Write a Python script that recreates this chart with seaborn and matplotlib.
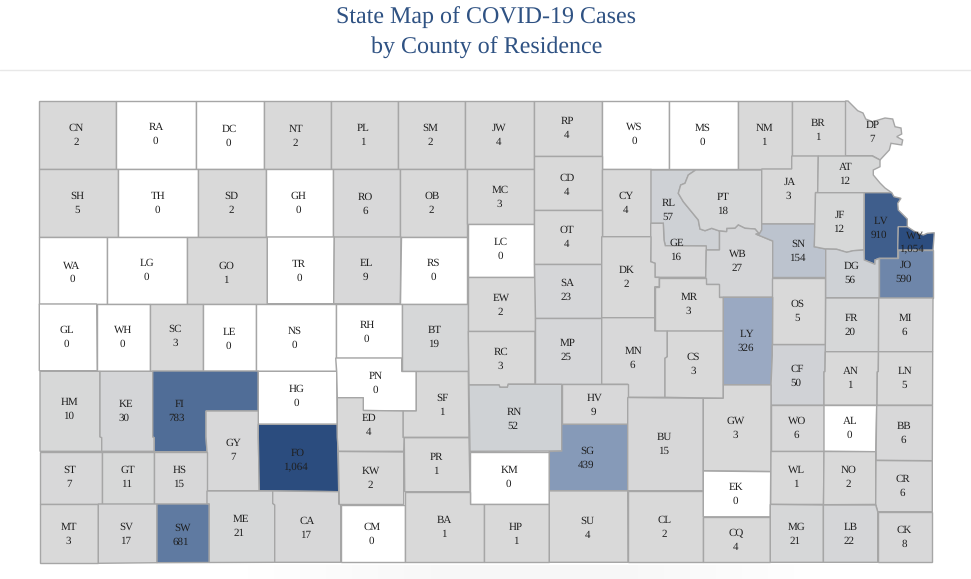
import matplotlib
matplotlib.use("Agg")
import matplotlib.pyplot as plt
from matplotlib.colors import Normalize
import seaborn as sns

# county codes and case counts, row by row from the north west
row1_codes = ["CN", "RA", "DC", "NT", "PL", "SM", "JW", "RP", "WS", "MS", "NM", "BR", "DP"]
row1_cases = [2, 0, 0, 2, 1, 2, 4, 4, 0, 0, 1, 1, 7]
row2_codes = ["SH", "TH", "SD", "GH", "RO", "OB", "MC", "CD", "CY", "RL", "PT", "JA", "AT"]
row2_cases = [5, 0, 2, 0, 6, 2, 3, 4, 4, 57, 18, 3, 12]
row3_codes = ["WA", "LG", "GO", "TR", "EL", "RS", "LC", "OT", "GE", "WB", "SN", "JF", "LV", "WY"]
row3_cases = [0, 0, 1, 0, 9, 0, 0, 4, 16, 27, 154, 12, 910, 1054]
row4_codes = ["GL", "WH", "SC", "LE", "NS", "RH", "BT", "EW", "SA", "DK", "MR", "OS", "DG", "JO"]
row4_cases = [0, 0, 3, 0, 0, 0, 19, 2, 23, 2, 3, 5, 56, 590]
row5_codes = ["HM", "KE", "FI", "HG", "PN", "SF", "RC", "MP", "MN", "CS", "LY", "FR", "MI"]
row5_cases = [10, 30, 783, 0, 0, 1, 3, 25, 6, 3, 326, 20, 6]
row6_codes = ["GY", "FO", "ED", "RN", "HV", "CF", "AN", "LN"]
row6_cases = [7, 1064, 4, 52, 9, 50, 1, 5]
row7_codes = ["ST", "GT", "HS", "KW", "PR", "KM", "SG", "BU", "GW", "WO", "AL", "BB"]
row7_cases = [7, 11, 15, 2, 1, 0, 439, 15, 3, 6, 0, 6]
row8_codes = ["MT", "SV", "SW", "ME", "CA", "CM", "BA", "HP", "SU", "CL", "EK", "CQ", "WL", "NO", "CR", "MG", "LB", "CK"]
row8_cases = [3, 17, 681, 21, 17, 0, 1, 1, 4, 2, 0, 4, 1, 2, 6, 21, 22, 8]

codes = row1_codes + row2_codes + row3_codes + row4_codes + row5_codes + row6_codes + row7_codes + row8_codes
cases = row1_cases + row2_cases + row3_cases + row4_cases + row5_cases + row6_cases + row7_cases + row8_cases

# county outlines
outlines = {
    "CN": [(39, 101), (116, 101), (116, 169), (39, 169)],
    "RA": [(116, 101), (196, 101), (196, 169), (116, 169)],
    "DC": [(196, 101), (264, 101), (264, 169), (196, 169)],
    "NT": [(264, 101), (330.5, 101), (330.5, 169), (264, 169)],
    "PL": [(330.5, 101), (398, 101), (398, 169), (330.5, 169)],
    "SM": [(398, 101), (465, 101), (465, 169), (398, 169)],
    "JW": [(465, 101), (534, 101), (534, 169), (465, 169)],
    "RP": [(534, 101), (601.7, 101), (601.7, 155.5), (534, 155.5)],
    "WS": [(601.7, 101), (669, 101), (669, 169), (601.7, 169)],
    "MS": [(669, 101), (737.7, 101), (737.7, 169), (669, 169)],
    "NM": [(737.7, 101), (791.7, 101), (791.7, 169), (737.7, 169)],
    "BR": [(791.7, 101), (845.5, 101), (845.5, 155.7), (791.7, 155.7)],
    "DP": [(845.5, 101), (848, 101), (857.7, 110.7), (863, 113), (865.7, 119), (872.7, 121.7), (885, 118),
           (892.7, 119), (895, 126.7), (901, 128), (901.7, 134), (896.7, 136.7), (902.7, 140), (901.7, 145),
           (891, 143.3), (889.3, 150), (880, 160), (872.3, 155.7), (845.5, 155.7)],
    "SH": [(39.3, 169), (118.3, 169), (118.3, 236.5), (39.3, 236.5)],
    "TH": [(118.3, 169), (198.3, 169), (198.3, 236.5), (118.3, 236.5)],
    "SD": [(198.3, 169), (265.7, 169), (265.7, 236.5), (198.3, 236.5)],
    "GH": [(265.7, 169), (333.3, 169), (333.3, 236.5), (265.7, 236.5)],
    "RO": [(333.3, 169), (400.3, 169), (400.3, 236.7), (333.3, 236.7)],
    "OB": [(400.3, 169), (467, 169), (467, 236.7), (400.3, 236.7)],
    "MC": [(467, 169), (534, 169), (534, 223.7), (467, 223.7)],
    "CD": [(534, 155.5), (601.7, 155.5), (601.7, 210), (534, 210)],
    "CY": [(601.7, 169), (651, 169), (651, 236.7), (601.7, 236.7)],
    "RL": [(651, 170), (695.7, 170), (688.3, 175), (685, 183.3), (680.7, 185), (678.3, 193.3), (683.3, 201.7),
           (698.3, 220), (700, 229), (705, 230.7), (711.7, 228.3), (719.5, 231), (719.5, 250), (706.3, 250),
           (706.3, 246), (665.3, 245.7), (664, 240), (663.3, 223.3), (651, 223.3)],
    "PT": [(695.7, 170), (761.7, 170), (761.7, 230), (759.3, 234), (755, 229), (745, 228.3), (738.3, 225),
           (735, 228.3), (727, 228.5), (726.7, 231.7), (719.5, 231), (711.7, 228.3), (705, 230.7), (700, 229),
           (698.3, 220), (683.3, 201.7), (678.3, 193.3), (680.7, 185), (685, 183.3), (688.3, 175)],
    "JA": [(761.7, 169), (791.7, 169), (791.7, 156), (818.3, 156), (817.7, 192.5), (815.5, 192.5), (815.5, 224),
           (761.7, 224)],
    "AT": [(818.3, 156), (872.3, 156), (880, 160), (880, 166.7), (873.3, 170), (873.3, 175), (880, 183), (885, 188),
           (891.7, 192.7), (817.7, 192.7)],
    "WA": [(39.3, 237), (107.3, 237), (107.3, 303.7), (39.3, 303.7)],
    "LG": [(107.3, 237), (187.3, 237), (187.3, 303.7), (107.3, 303.7)],
    "GO": [(187.3, 237), (267.3, 237), (267.3, 303.7), (187.3, 303.7)],
    "TR": [(267.3, 237), (334.3, 237), (333.7, 303.7), (267.3, 303.7)],
    "EL": [(334.3, 237), (401, 237), (400.3, 303.7), (333.7, 303.7)],
    "RS": [(401, 237), (467, 237), (467, 303.7), (400.3, 303.7)],
    "LC": [(467.7, 224), (534, 224), (534, 277), (467.7, 277)],
    "OT": [(534, 210), (601.7, 210), (601.7, 263.7), (534, 263.7)],
    "GE": [(650.7, 223.3), (663.3, 223.3), (664, 240), (665.3, 245.7), (706.3, 246), (705.7, 277.3), (655, 277.3),
           (655, 263.3), (650.7, 261.7)],
    "WB": [(706.3, 250), (719.5, 250), (719.5, 231), (726.7, 231.7), (727, 228.5), (735, 228.3), (738.3, 225),
           (745, 228.3), (755, 229), (759.3, 234), (755.7, 234), (772.7, 241), (772.7, 297.3), (719.3, 297.3),
           (719.3, 284.5), (705.7, 284.5), (705.7, 277.3)],
    "SN": [(761.7, 224), (815.5, 224), (814.3, 246.7), (825.7, 249), (825.7, 277.5), (772.7, 277.5), (772.7, 241),
           (755.7, 234), (759.3, 234), (761.7, 230)],
    "JF": [(815.5, 192.7), (864.3, 192.7), (864, 250), (853.3, 250.7), (846.7, 252.3), (836.7, 249.3), (825.7, 249),
           (814.3, 246.7)],
    "LV": [(864.3, 192.7), (891.7, 192.7), (894, 196.7), (901, 198.3), (897.7, 203.3), (898.3, 210), (907.3, 219),
           (907.3, 226.7), (898.3, 226.7), (897.7, 258.3), (879.3, 258.3), (875, 260), (875, 264.3), (864.3, 260)],
    "WY": [(898.3, 226.7), (907.3, 226.7), (915, 231.7), (923.3, 235), (927.3, 233.3), (934.3, 232.7), (933, 250),
           (897.7, 250)],
    "GL": [(39.3, 304), (96.7, 304), (97.3, 370.7), (39.3, 370.7)],
    "WH": [(96.7, 304), (149.7, 304), (149.7, 370.7), (97.3, 370.7)],
    "SC": [(149.7, 304), (202.7, 304), (202.7, 370.7), (149.7, 370.7)],
    "LE": [(202.7, 304), (255.7, 304), (255.7, 370.7), (202.7, 370.7)],
    "NS": [(255.7, 304), (335.7, 304), (335.7, 370.7), (255.7, 370.7)],
    "RH": [(335.7, 304.3), (401.7, 304.3), (401.7, 357.7), (335.7, 357.7)],
    "BT": [(401.7, 304.3), (468.3, 304.3), (468.3, 371.3), (401.7, 371.3)],
    "EW": [(467.7, 277.3), (534.5, 277.3), (534.5, 331.3), (468.3, 331.3)],
    "SA": [(534, 263.7), (601.7, 263.7), (601.7, 317.7), (534.5, 317.7)],
    "DK": [(601.7, 236.7), (651, 236.7), (650.7, 261.7), (655, 263.3), (655, 277.4), (659.3, 277.4), (659.3, 286.7),
           (654.7, 286.7), (654.7, 317.7), (601.7, 317.7)],
    "MR": [(659.3, 277.5), (705.7, 277.5), (705.7, 284.3), (719.3, 284.3), (719.3, 297.3), (723.3, 297.3),
           (723.3, 330.7), (654.7, 330.7), (654.7, 286.7), (659.3, 286.7)],
    "OS": [(772.3, 277.5), (825.3, 277.5), (825.3, 344.3), (772.3, 344.3)],
    "DG": [(825.7, 249), (836.7, 249.3), (846.7, 252.3), (853.3, 250.7), (864, 250), (864.3, 260), (875, 264.3),
           (875, 260), (879.3, 258.3), (879.3, 297.7), (825.7, 297.7)],
    "JO": [(897.7, 250), (933, 250), (933, 297.7), (879.3, 297.7), (879.3, 258.3), (897.7, 258.3)],
    "HM": [(40, 371.3), (100, 371.3), (100, 436.7), (101.7, 437.7), (101.7, 451.3), (40, 451.3)],
    "KE": [(100, 371.3), (152.7, 371.3), (152.7, 436.7), (154.3, 437.7), (154.3, 451.3), (101.7, 451.3),
           (101.7, 437.7), (100, 436.7)],
    "FI": [(152.7, 371), (258.3, 371), (258.3, 411), (206, 411), (206, 436.7), (207, 451.7), (154.3, 451.7),
           (154.3, 437.7), (152.7, 436.7)],
    "HG": [(258.3, 371.3), (336.7, 371.3), (337.3, 424.3), (258.3, 424.3)],
    "PN": [(335.7, 358), (401.7, 358), (401.7, 371.5), (416.3, 371.5), (416.3, 411), (363.3, 410.5), (363.3, 397.7),
           (337.3, 397.7), (336.7, 371.3)],
    "SF": [(416.3, 371.5), (468.3, 371.5), (469, 437.3), (403, 437.3), (403, 411), (416.3, 411)],
    "RC": [(468.3, 331.5), (535, 331.5), (535, 384.2), (508.3, 384.2), (507.3, 387.3), (500, 387.3), (499, 385),
           (469, 385)],
    "MP": [(534.5, 317.7), (601.7, 317.7), (601.7, 384.2), (535, 384.2)],
    "MN": [(601.7, 317.7), (654.7, 317.7), (654.7, 331), (667.3, 331), (667.3, 356.7), (665, 358.3), (665, 397.3),
           (627.7, 397.3), (627.7, 384.3), (601.7, 384.3)],
    "CS": [(667.3, 331), (723.3, 331), (723.3, 398.3), (665, 397.3), (665, 358.3), (667.3, 356.7)],
    "LY": [(723.3, 297.3), (772.7, 297.3), (772.3, 355), (771, 384.7), (723.3, 384.7)],
    "FR": [(825.7, 298), (878.7, 298), (878.5, 351.7), (825.3, 351.7)],
    "MI": [(878.7, 298), (933, 298), (932.7, 351.7), (878.5, 351.7)],
    "GY": [(206, 411), (258.3, 411), (258.3, 436.7), (259.3, 490.7), (207, 490.7), (207, 451.7), (206, 436.7)],
    "FO": [(258.3, 424.3), (337.3, 424.3), (338.7, 491.7), (259.3, 490.7), (258.3, 436.7)],
    "ED": [(337.3, 397.7), (363.3, 397.7), (363.3, 410.5), (403, 411), (403, 437.3), (404.3, 437.7), (403.7, 451.3),
           (338.3, 451.3), (337.3, 437.3)],
    "RN": [(469, 385), (499, 385), (500, 387.3), (507.3, 387.3), (508.3, 384.3), (561.7, 384.3), (561.7, 451),
           (470, 451.3)],
    "HV": [(561.7, 384.3), (627.7, 384.3), (627.7, 424.3), (561.7, 424.3)],
    "CF": [(772.3, 344.7), (825.3, 344.7), (825, 371.7), (824, 371.7), (824, 405.2), (771, 405.2), (771, 384.7),
           (772.3, 355)],
    "AN": [(825.3, 351.7), (878.5, 351.7), (878.3, 371.7), (877.3, 371.7), (877, 405.2), (824, 405.2), (824, 371.7),
           (825, 371.7)],
    "LN": [(878.5, 351.7), (932.7, 351.7), (932.5, 405.2), (877, 405.2), (877.3, 371.7), (878.3, 371.7)],
    "ST": [(40, 451.7), (101.7, 451.7), (101.7, 503.5), (40, 503.5)],
    "GT": [(101.7, 451.7), (154.3, 451.7), (154.3, 503.5), (101.7, 503.5)],
    "HS": [(154.3, 451.7), (207, 451.7), (207, 503.5), (154.3, 503.5)],
    "KW": [(338.3, 451.5), (403.7, 452), (403.7, 504.5), (339.3, 504.5)],
    "PR": [(404.3, 437.7), (469, 437.7), (470, 491.7), (404.7, 491.7)],
    "KM": [(470, 451.5), (549.3, 451.5), (549.3, 504.2), (470, 504.2)],
    "SG": [(561.7, 424.3), (627.7, 424.3), (627.7, 490.7), (549.3, 490.7), (549.3, 451.5), (561.7, 451)],
    "BU": [(627.7, 397.5), (703.3, 398.3), (703.3, 490.7), (627.7, 490.7)],
    "GW": [(703.3, 398.3), (723.3, 398.3), (723.3, 384.9), (771, 384.9), (771, 471.5), (703.3, 470.8)],
    "WO": [(771, 405.3), (824, 405.3), (824, 451.3), (771, 451.3)],
    "AL": [(824, 405.5), (876.7, 405.5), (875.7, 451.7), (824, 451.3)],
    "BB": [(876.7, 405.5), (932.5, 405.5), (932.3, 460.7), (876, 460.3)],
    "MT": [(40, 504), (98.3, 504), (98.3, 563.3), (40, 563.3)],
    "SV": [(98.3, 504), (157, 504), (157, 562.7), (98.3, 563.3)],
    "SW": [(157, 504), (209.3, 504), (209.3, 562.5), (157, 562.7)],
    "ME": [(207, 491), (272.7, 491), (272.7, 503.3), (274.7, 505), (274.7, 562.3), (209.3, 562.5), (209.3, 504),
           (207, 503.5)],
    "CA": [(272.7, 491), (338.7, 491.7), (338.7, 504), (340.7, 505), (340.7, 562.3), (274.7, 562.3), (274.7, 505),
           (272.7, 503.3)],
    "CM": [(340.7, 505), (405.3, 505), (405.3, 562.3), (340.7, 562.3)],
    "BA": [(404.7, 491.7), (470, 491.7), (470, 504.3), (484, 504.3), (484, 562.3), (405.3, 562.3), (405.3, 505)],
    "HP": [(484, 504.3), (549.3, 504.3), (549.3, 562.3), (484, 562.3)],
    "SU": [(549.3, 490.9), (627.7, 490.9), (628, 562.3), (549.3, 562.3)],
    "CL": [(627.7, 490.7), (703.3, 490.7), (703.3, 562.3), (628, 562.3)],
    "EK": [(703.3, 471), (770.7, 471.7), (770.3, 516.8), (703.3, 516.8)],
    "CQ": [(703.3, 517), (770.3, 517), (770.3, 562.3), (703.3, 562.3)],
    "WL": [(771, 451.5), (824, 451.5), (823.5, 504.4), (770.7, 504.4)],
    "NO": [(824, 451.5), (875.7, 451.7), (875.7, 504.4), (823.5, 504.7)],
    "CR": [(876, 460.5), (932.3, 461), (932.3, 511.7), (877.7, 511.7), (875.7, 504.4)],
    "MG": [(770.3, 504.4), (823.4, 505), (823.4, 562.3), (770.3, 562.3)],
    "LB": [(823.4, 505), (875.7, 505), (877.7, 511.7), (877.7, 562.3), (823.4, 562.3)],
    "CK": [(877.7, 511.7), (932.3, 511.7), (932.3, 562.3), (877.7, 562.3)],
}

# code x, code y, count x
label_spots = {
    "CN": (76, 128.3, 76), "RA": (156, 127.3, 155.3), "DC": (229.3, 129.3, 228.7), "NT": (296, 129.3, 295.3),
    "SH": (77.7, 196.7, 77.3), "TH": (158, 196.7, 157), "SD": (231.7, 196.7, 231.7), "GH": (298.3, 196.7, 298.3),
    "WA": (72, 265.7, 72), "LG": (146.7, 263.3, 146), "GO": (226.7, 266.3, 226), "TR": (299.3, 264.3, 299),
    "PL": (363.3, 128.3, 363), "SM": (430.7, 128.3, 430), "JW": (499, 128.3, 498.3), "RP": (567.3, 121.3, 567),
    "WS": (634.7, 127.3, 634.7), "RO": (365, 197.3, 365), "OB": (432, 196.7, 431.7), "MC": (500.3, 190.3, 499.3),
    "CD": (567, 178.3, 566.7), "CY": (626, 196.7, 625.3), "OT": (566.7, 230.7, 566.3), "LC": (500.3, 242.3, 500),
    "EL": (366.7, 263.7, 365.7), "RS": (433.3, 263.3, 433.3), "DK": (627, 270.7, 626.7), "SA": (567.3, 283.3, 566),
    "EW": (501, 298.3, 500.7), "RH": (367.3, 325.3, 366.7), "BT": (434.7, 330, 433.3), "MP": (567.7, 343.3, 566),
    "MN": (633.3, 351.3, 632.3), "RC": (500.7, 352.3, 500.3), "PN": (375.7, 376.3, 375), "SF": (442, 398.3, 441.7),
    "HV": (594.3, 398.3, 593.7), "RN": (514, 412.3, 513), "ED": (369, 418.7, 368.7), "SG": (587.3, 451.7, 586),
    "PR": (436.3, 457.3, 436), "KW": (370.7, 471.3, 370), "KM": (509.7, 470.3, 508.3), "BA": (444, 520.3, 443.3),
    "SU": (587.7, 521.3, 587.3), "CM": (372, 527.3, 371.3), "HP": (516, 527.3, 515.3), "MS": (702.3, 128.3, 702.3),
    "NM": (764.3, 128.3, 763.7), "BR": (818, 123.3, 817.3), "DP": (872.7, 125.3, 872.3), "AT": (845.7, 167.3, 844.7),
    "JA": (789.7, 182.3, 788.3), "PT": (723.3, 197.3, 722.3), "RL": (668.3, 203.3, 667.7), "JF": (840, 215.3, 838.3),
    "LV": (881, 221.3, 878.7), "WY": (915.3, 236, 911.7), "GE": (677, 243.3, 676), "SN": (798.7, 244.3, 797),
    "WB": (738.3, 254.3, 737), "JO": (906, 265.3, 904), "DG": (851.7, 266.3, 850.3), "MR": (689.3, 297.3, 688.3),
    "OS": (797.3, 304.3, 797.3), "FR": (851.3, 318.3, 850), "MI": (905.3, 318.3, 904), "LY": (747.3, 334.3, 745.3),
    "CS": (693, 357.3, 693), "CF": (797.3, 369, 796), "AN": (850.7, 371.3, 850), "LN": (904.7, 371.3, 904),
    "GW": (735.7, 421.3, 735.7), "WO": (796.7, 421.3, 796.7), "AL": (850, 421.3, 849), "BB": (903.7, 426.3, 903.7),
    "BU": (664, 437.3, 663.3), "WL": (796.3, 470.3, 796), "NO": (848.7, 470.3, 848.3), "CR": (902.7, 479.3, 902.7),
    "EK": (735.7, 487.3, 735.3), "CL": (664.3, 520.3, 664.3), "MG": (796.7, 527.3, 795), "LB": (850.7, 527.3, 849),
    "CK": (904, 530.3, 904), "CQ": (735.7, 533.3, 736), "GL": (66.7, 330.3, 66.7), "WH": (122.7, 330, 122.3),
    "SC": (175.3, 329.3, 175), "LE": (229.3, 332.3, 228.3), "NS": (294.7, 331.3, 294.3), "HG": (296.7, 389.3, 296.3),
    "HM": (69.3, 402.3, 68.3), "KE": (126, 404.3, 124), "FI": (179.3, 404.3, 176.7), "GY": (233.3, 443.3, 232.7),
    "FO": (297.7, 453.3, 295.3), "ST": (70, 470.3, 69.3), "GT": (127.7, 470.3, 126.7), "HS": (179.3, 470.3, 179),
    "ME": (240.7, 519.3, 239), "CA": (306.7, 521.3, 306), "MT": (68.7, 527.3, 68), "SV": (126.7, 527.3, 125.3),
    "SW": (182.3, 528.3, 180.7),
}

sns.set_theme(style="white")
plt.rcParams["font.family"] = ["Liberation Serif", "DejaVu Serif"]
plt.rcParams["text.hinting"] = "no_hinting"
plt.rcParams["text.hinting_factor"] = 1

# zero counties stay white, everything else runs grey to navy
cmap = sns.blend_palette(["#d9d9d9", "#94a5c0", "#5a769e", "#2b4c7e"], as_cmap=True)
cmap.set_under("white")
norm = Normalize(vmin=1, vmax=1064)

fig = plt.figure(figsize=(9.71, 5.79), dpi=100)
ax = fig.add_axes([0, 0, 1, 1])

# faint shadow under the map
ax.imshow([[255, 247, 247, 255]], cmap="gray", vmin=0, vmax=255, extent=(120, 950, 579, 565),
          aspect="auto", interpolation="bilinear", zorder=0)

for code, n in zip(codes, cases):
    xs, ys = zip(*outlines[code])
    ax.fill(xs, ys, facecolor=cmap(norm(n)), edgecolor="#a6a6a6", linewidth=1.0, joinstyle="miter", zorder=1)

for code, n in zip(codes, cases):
    code_x, code_y, count_x = label_spots[code]
    ax.text(code_x, code_y, code, fontsize=7.8, color="#1f1f1f", ha="center", va="center", zorder=3)
    ax.text(count_x, code_y + 14, f"{n:,}", fontsize=7.8, color="#1f1f1f", ha="center", va="center", zorder=3)

ax.text(486.5, 17.5, "State Map of COVID-19 Cases", fontsize=17.2, color="#2f5283", ha="center", va="center")
ax.text(486.5, 47.5, "by County of Residence", fontsize=17.2, color="#2f5283", ha="center", va="center")
ax.plot([0, 971], [69.5, 69.5], color="#e8e8e8", linewidth=1)

ax.set_xlim(0, 971)
ax.set_ylim(579, 0)
ax.axis("off")

fig.savefig("out.png", dpi=100)
